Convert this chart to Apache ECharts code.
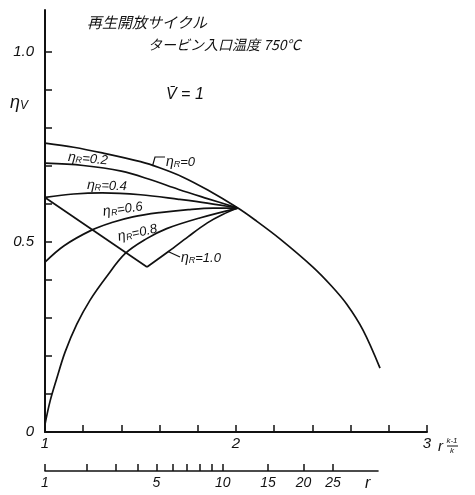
<!DOCTYPE html>
<html>
<head>
<meta charset="utf-8">
<script src="https://cdn.jsdelivr.net/npm/echarts@6/dist/echarts.min.js"></script>
<style>
  html, body { margin: 0; padding: 0; background: #fff; }
  #chart { width: 475px; height: 495px; }
</style>
</head>
<body>
<div id="chart"></div>
<script>
// Abscissa is r^((k-1)/k) with k = 1.4; a second scale beneath shows the pressure ratio r.
const K = 1.4;
const EXPO = (K - 1) / K;

// Tick values / labels
const xTicks = [1, 1.2, 1.4, 1.6, 1.8, 2, 2.2, 2.4, 2.6, 2.8, 3];
const xLabels = [1, 2, 3];
const yTicks = [0, 0.1, 0.2, 0.3, 0.4, 0.5, 0.6, 0.7, 0.8, 0.9, 1.0];
const yLabels = [0, 0.5, 1.0];
const rTicks = [1, 2, 3, 4, 5, 6, 7, 8, 9, 10, 15, 20, 25];
const rLabels = [1, 5, 10, 15, 20, 25];

// Thermal efficiency curves, [r^((k-1)/k), ηV], one per regenerator effectiveness ηR
// ηR = 0 continues past the common point as the plain (non-regenerative) cycle
const etaR00 = [[1, 0.76], [1.15, 0.749], [1.3, 0.734], [1.5, 0.711], [1.6, 0.695], [1.72, 0.671],
  [1.85, 0.637], [2.01, 0.589], [2.1, 0.5575], [2.23, 0.508], [2.4, 0.435], [2.5, 0.384],
  [2.58, 0.336], [2.665, 0.268], [2.754, 0.168]];
const etaR02 = [[1, 0.707], [1.2, 0.701], [1.4, 0.686], [1.55, 0.664], [1.7, 0.638], [1.85, 0.614], [2.01, 0.589]];
const etaR04 = [[1, 0.617], [1.15, 0.626], [1.3, 0.629], [1.5, 0.624], [1.7, 0.612], [1.85, 0.602], [2.01, 0.589]];
const etaR06 = [[1, 0.447], [1.1, 0.49], [1.244, 0.531], [1.35, 0.551], [1.46, 0.566], [1.6, 0.577],
  [1.75, 0.585], [1.88, 0.589], [2.01, 0.589]];
const etaR08 = [[1, 0.02], [1.026, 0.08], [1.061, 0.14], [1.105, 0.21], [1.166, 0.283], [1.236, 0.347],
  [1.323, 0.409], [1.419, 0.469], [1.53, 0.508], [1.637, 0.535], [1.81, 0.563], [2.01, 0.589]];
const etaR10Left = [[1, 0.617], [1.534, 0.434]];
const etaR10Right = [[1.534, 0.434], [1.65, 0.476], [1.75, 0.514], [1.85, 0.55], [1.93, 0.572], [2.01, 0.589]];

// Layout
const G1 = { left: 45, top: 10, width: 382, height: 422 };
const G2 = { left: 45, top: 470, width: 333, height: 1 };
const X_MIN = 1, X_MAX = 3, Y_MAX = 1.11;
const R_AXIS_MAX = X_MIN + (G2.width / G1.width) * (X_MAX - X_MIN);

const INK = '#111';
const NUM_FONT = '"Liberation Sans", "DejaVu Sans", sans-serif';
const JP_FONT = '"Noto Sans CJK JP", "Noto Sans CJK SC", sans-serif';

function curve(data, smooth) {
  return {
    type: 'line', xAxisIndex: 0, yAxisIndex: 0, data: data,
    showSymbol: false, smooth: smooth ? 0.35 : false,
    lineStyle: { color: INK, width: 1.7 }, silent: true
  };
}

function etaLabel(x, y, value, rot) {
  return {
    type: 'text', x: x, y: y, rotation: rot || 0,
    style: {
      text: '{e|η}{s|R}{t|=' + value + '}',
      textVerticalAlign: 'middle',
      rich: {
        e: { fontSize: 14, fontStyle: 'italic', fontFamily: NUM_FONT, fill: INK, verticalAlign: 'bottom' },
        s: { fontSize: 9, fontStyle: 'italic', fontFamily: NUM_FONT, fill: INK, verticalAlign: 'bottom' },
        t: { fontSize: 13, fontStyle: 'italic', fontFamily: NUM_FONT, fill: INK, verticalAlign: 'bottom' }
      }
    }
  };
}

const chart = echarts.init(document.getElementById('chart'), null, { renderer: 'canvas' });

chart.setOption({
  animation: false,
  backgroundColor: '#fff',
  grid: [
    Object.assign({ containLabel: false }, G1),
    Object.assign({ containLabel: false }, G2)
  ],
  xAxis: [
    {
      type: 'value', gridIndex: 0, min: X_MIN, max: X_MAX, interval: 0.2,
      splitLine: { show: false },
      axisLine: { onZero: false, lineStyle: { color: INK, width: 2 } },
      axisTick: { inside: true, length: 7, lineStyle: { color: INK, width: 1.5 }, customValues: xTicks },
      axisLabel: {
        customValues: xLabels, margin: 4, color: INK, fontSize: 15, fontStyle: 'italic', fontFamily: NUM_FONT,
        formatter: v => String(Math.round(v))
      }
    },
    {
      type: 'value', gridIndex: 1, min: X_MIN, max: R_AXIS_MAX, position: 'bottom',
      splitLine: { show: false },
      axisLine: { onZero: false, lineStyle: { color: INK, width: 1.6 } },
      axisTick: { inside: true, length: 7, lineStyle: { color: INK, width: 1.5 },
        customValues: rTicks.map(r => Math.pow(r, EXPO)) },
      axisLabel: {
        customValues: rLabels.map(r => Math.pow(r, EXPO)), margin: 5, color: INK,
        fontSize: 14, fontStyle: 'italic', fontFamily: NUM_FONT,
        formatter: v => String(Math.round(Math.pow(v, 1 / EXPO)))
      }
    }
  ],
  yAxis: [
    {
      type: 'value', gridIndex: 0, min: 0, max: Y_MAX,
      splitLine: { show: false },
      axisLine: { onZero: false, lineStyle: { color: INK, width: 2 } },
      axisTick: { inside: true, length: 7, lineStyle: { color: INK, width: 1.5 }, customValues: yTicks },
      axisLabel: {
        customValues: yLabels, margin: 11, color: INK, fontSize: 15, fontStyle: 'italic', fontFamily: NUM_FONT,
        formatter: v => (v === 0 ? '0' : v.toFixed(1))
      }
    },
    { type: 'value', gridIndex: 1, show: false, min: 0, max: 1 }
  ],
  series: [
    curve(etaR00, true),
    curve(etaR02, true),
    curve(etaR04, true),
    curve(etaR06, true),
    curve(etaR08, true),
    curve(etaR10Left, false),
    curve(etaR10Right, true)
  ],
  graphic: [
    { type: 'text', x: 87, y: 22, style: { text: '再生開放サイクル', fill: INK,
      font: 'italic 15px ' + JP_FONT, textVerticalAlign: 'middle' } },
    { type: 'text', x: 148, y: 45, style: { text: 'タービン入口温度 750°C', fill: INK,
      font: 'italic 14px ' + JP_FONT, textVerticalAlign: 'middle' } },
    { type: 'text', x: 166, y: 95, style: { text: 'V̄ = 1', fill: INK,
      font: 'italic 16px ' + NUM_FONT, textVerticalAlign: 'middle' } },
    // ηV axis name
    { type: 'text', x: 10, y: 103, style: {
      text: '{e|η}{s|V}', textVerticalAlign: 'middle',
      rich: {
        e: { fontSize: 18, fontStyle: 'italic', fontFamily: NUM_FONT, fill: INK, verticalAlign: 'bottom' },
        s: { fontSize: 12, fontStyle: 'italic', fontFamily: NUM_FONT, fill: INK, verticalAlign: 'bottom' }
      } } },
    // r^((k-1)/k) axis name
    { type: 'text', x: 438, y: 447, style: { text: 'r', fill: INK, font: 'italic 15px ' + NUM_FONT,
      textVerticalAlign: 'middle' } },
    { type: 'text', x: 452, y: 441, style: { text: 'k-1', fill: INK, font: 'italic 8px ' + NUM_FONT,
      textAlign: 'center', textVerticalAlign: 'middle' } },
    { type: 'line', shape: { x1: 447, y1: 446, x2: 458, y2: 446 }, style: { stroke: INK, lineWidth: 1 } },
    { type: 'text', x: 452, y: 451, style: { text: 'k', fill: INK, font: 'italic 8px ' + NUM_FONT,
      textAlign: 'center', textVerticalAlign: 'middle' } },
    // r scale name
    { type: 'text', x: 365, y: 484, style: { text: 'r', fill: INK, font: 'italic 16px ' + NUM_FONT,
      textVerticalAlign: 'middle' } },
    // curve labels
    etaLabel(166, 162, '0', 0),
    { type: 'polyline', shape: { points: [[165, 157], [155, 157], [152.5, 166]] },
      style: { stroke: INK, lineWidth: 1.2, fill: null } },
    etaLabel(68, 157, '0.2', -0.08),
    etaLabel(87, 185, '0.4', -0.03),
    etaLabel(103, 212, '0.6', 0.15),
    etaLabel(118, 237, '0.8', 0.22),
    etaLabel(181, 258, '1.0', 0),
    { type: 'polyline', shape: { points: [[168, 251.5], [180, 257]] },
      style: { stroke: INK, lineWidth: 1.2, fill: null } }
  ]
});
</script>
</body>
</html>
